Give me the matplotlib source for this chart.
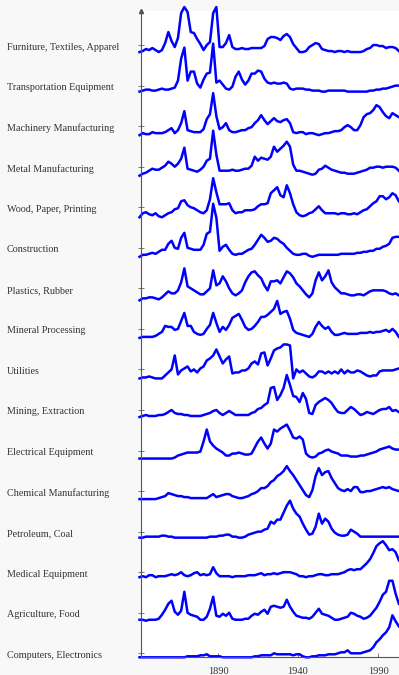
import numpy as np
import matplotlib.pyplot as plt
from matplotlib.transforms import blended_transform_factory

# yearly grid (every 2 years), values = height above each row's baseline
years = np.arange(1841, 2004, 2)

labels = ["Furniture, Textiles, Apparel", "Transportation Equipment",
          "Machinery Manufacturing", "Metal Manufacturing",
          "Wood, Paper, Printing", "Construction", "Plastics, Rubber",
          "Mineral Processing", "Utilities", "Mining, Extraction",
          "Electrical Equipment", "Chemical Manufacturing", "Petroleum, Coal",
          "Medical Equipment", "Agriculture, Food", "Computers, Electronics"]

furniture = [-7,-6,-4,-5,-3,-5,-7,-5,2,13, 4,-2,7,32,38,33,13,12,6,1,
             -5,0,3,32,38,-2,-2,2,10,-2, -4,-4,-3,-4,-4,-3,-3,-3,-3,-1,
             6,8,8,7,5,9,11,8,1,-3, -7,-7,-6,-2,0,2,1,-4,-5,-6,
             -6,-7,-6,-6,-7,-6,-7,-7,-7,-7, -6,-4,-3,0,0,-1,-1,-3,-2,-2, -3,-6]
transport = [-6,-5,-4,-4,-5,-5,-4,-3,-4,-4, -3,-2,5,27,38,5,14,14,2,-2,
             6,12,13,42,3,5,1,-3,-4,-1, 9,14,6,1,5,12,12,15,14,7,
             3,2,3,2,2,3,2,-3,-4,-3, -3,-3,-4,-4,-5,-5,-5,-6,-6,-5,
             -5,-5,-5,-5,-5,-6,-6,-6,-6,-6, -6,-6,-5,-5,-4,-4,-3,-3,-2,-1, 0,0]
machinery = [-9,-7,-8,-8,-6,-7,-7,-7,-6,-4, -2,-7,-4,3,15,-4,-5,-6,-6,-6,
             -3,7,12,33,10,-3,-1,3,-4,-6, -6,-5,-4,-4,-2,-1,3,6,11,6,
             2,5,8,5,4,6,7,3,-6,-7, -6,-6,-8,-7,-7,-8,-9,-8,-7,-7,
             -6,-5,-5,-4,-1,1,-1,-4,-4,1, 9,12,13,16,21,19,14,10,8,13, 11,9]
metal = [-9,-7,-6,-4,-2,-3,-3,-1,1,5, 3,0,3,8,19,-2,-3,-4,-5,-3,
         0,6,8,36,12,-4,-4,-4,-4,-3, -4,-4,-3,-2,-2,1,10,6,9,8,
         7,10,20,15,18,21,25,20,2,-4, -4,-5,-6,-7,-8,-7,-3,-2,1,-1,
         -3,-4,-5,-6,-6,-7,-7,-7,-6,-5, -4,-3,-1,-1,0,0,-1,0,0,0, -1,-4]
wood = [-10,-6,-5,-7,-8,-6,-9,-10,-8,-6, -5,-2,-1,6,7,2,0,-1,-3,-5,
        -6,-3,8,29,15,3,3,3,4,-3, -6,-5,-5,-3,-3,-3,-2,1,3,3,
        4,14,17,20,12,10,22,14,3,-5, -8,-9,-8,-6,-5,-2,1,-3,-6,-6,
        -6,-6,-7,-6,-6,-7,-7,-6,-7,-5, -3,-2,1,4,6,11,11,8,10,14, 12,6]
construction = [-9,-7,-7,-6,-5,-6,-4,-2,-2,4, 7,0,-1,10,15,0,-1,-2,-2,-2,
                3,14,16,44,30,-3,1,3,-2,-6, -7,-6,-6,-4,-2,-1,3,8,13,10,
                6,7,10,9,6,4,0,-3,-6,-7, -7,-6,-6,-8,-9,-8,-7,-7,-7,-7,
                -7,-7,-7,-6,-6,-6,-6,-6,-5,-5, -4,-4,-3,-3,-1,-1,1,2,4,10, 11,11]
plastics = [-12,-10,-10,-9,-9,-10,-11,-9,-6,-3, -5,-5,-2,6,20,2,0,-2,-4,-6,
            -6,-3,0,18,3,5,12,7,0,-5, -7,-5,-2,6,12,16,17,13,10,3,
            -2,7,7,8,5,11,17,15,11,5, 2,-2,-6,-9,-5,8,16,8,12,18,
            6,1,-2,-5,-5,-6,-7,-7,-6,-6, -7,-5,-3,-2,-2,-2,-2,-3,-5,-6, -5,-7]
mineral = [-9,-8,-8,-8,-8,-7,-5,-3,3,2, 2,-1,0,8,16,3,3,-3,-5,-6,
           -5,0,4,16,6,-3,2,-1,4,11, 13,15,9,2,-1,0,3,7,12,12,
           14,17,20,28,15,17,18,10,-1,-4, -5,-6,-7,-8,-5,2,7,3,0,2,
           -3,-6,-6,-5,-4,-5,-5,-5,-5,-4, -4,-4,-3,-4,-3,-3,-2,-1,-3,0, -3,-8]
utilities = [-9,-8,-8,-7,-8,-9,-9,-9,-6,-3, 0,14,-5,-1,1,3,-2,0,-3,1,
             3,9,11,14,20,13,6,10,13,-4, -3,-3,-1,-1,1,6,8,5,16,17,
             4,11,19,21,22,25,25,24,-9,0, -3,-1,-4,-7,-8,-6,-2,-2,-4,-2,
             -4,-2,-4,0,-4,-1,-3,-3,-1,-2, -4,-6,-7,-6,-6,-2,-1,-1,-1,-1, 0,1]
mining = [-7,-6,-5,-6,-6,-6,-5,-5,-4,-2, 0,-3,-4,-4,-5,-5,-6,-6,-6,-6,
          -5,-4,-3,-1,0,-3,-5,-3,-1,-3, -5,-5,-5,-5,-5,-3,-2,1,2,5,
          7,22,23,10,15,22,35,25,14,13, 8,17,11,-3,-4,5,8,10,12,10,
          7,2,-2,-3,-3,0,3,1,-2,-5, -4,-2,-3,-4,-2,0,1,1,3,-1, 0,-2]
electrical = [-8,-8,-8,-8,-8,-8,-8,-8,-8,-8, -8,-7,-5,-4,-3,-2,-2,-2,-2,-1,
              9,21,9,5,2,0,-2,-5,-5,-3, -3,-2,-3,-4,-4,-3,3,9,13,7,
              2,7,21,19,22,24,26,20,13,12, 14,11,-3,-6,-7,-6,-3,-2,0,1,
              -1,-2,-3,-5,-5,-5,-6,-6,-6,-5, -5,-4,-3,-2,-1,1,2,3,4,2, 1,1]
chemical = [-8,-8,-8,-8,-8,-8,-7,-6,-5,-2, -3,-4,-5,-5,-6,-6,-7,-7,-7,-7,
            -7,-7,-5,-3,-6,-5,-4,-3,-3,-5, -6,-7,-7,-6,-5,-3,-2,0,3,3,
            5,9,11,15,17,20,25,20,16,11, 6,1,-4,-6,1,15,23,16,19,20,
            13,8,3,1,0,2,0,4,4,-1, -1,0,0,1,2,3,4,3,4,2, 1,0]
petroleum = [-6,-6,-5,-5,-5,-5,-5,-4,-4,-5, -5,-6,-6,-6,-6,-6,-6,-6,-6,-6,
             -6,-6,-5,-5,-5,-4,-4,-3,-3,-5, -5,-6,-6,-5,-3,-2,-1,0,0,2,
             3,10,8,12,12,19,26,31,23,18, 15,8,2,-3,-2,5,18,8,13,10,
             3,-1,-3,-4,-4,-3,2,0,-2,-5, -5,-5,-5,-5,-5,-5,-5,-5,-5,-5, -5,-5]
medical = [-5,-4,-5,-3,-3,-5,-4,-4,-4,-3, -2,-3,-2,0,-3,-4,-3,-1,0,-3,
           -2,-3,-2,5,-1,-4,-4,-4,-4,-5, -4,-4,-4,-4,-3,-3,-3,-2,-1,-3,
           -2,-2,-1,-2,-1,0,0,0,-1,-2, -4,-4,-5,-4,-4,-3,-2,-2,-3,-3,
           -2,-2,-2,-1,0,2,3,2,3,3, 6,9,13,19,26,29,31,27,22,23, 20,12]
agriculture = [-7,-7,-8,-7,-7,-7,-6,-2,3,9, 12,1,-2,2,21,0,-2,-3,-4,-7,
               -7,-4,4,16,-3,-4,-1,-3,0,-6, -7,-7,-7,-6,-6,-3,-1,-2,1,3,
               -1,6,7,6,5,6,13,6,1,-3, -4,-5,-5,-6,-4,0,4,-1,-2,-3,
               -5,-7,-7,-6,-5,-4,0,-1,-3,-4, -6,-5,-3,1,5,11,18,21,32,32, 19,9]
computers = [-4,-4,-4,-4,-4,-4,-4,-4,-4,-4, -4,-4,-4,-4,-4,-3,-3,-3,-3,-2,
             -2,-1,-3,-3,-3,-3,-4,-4,-4,-4, -4,-4,-4,-4,-4,-4,-3,-3,-2,-2,
             -2,-2,0,-1,-1,-1,-1,-1,-2,-1, -1,-3,-4,-4,-3,-3,-2,-2,-2,-1,
             -1,-1,0,1,1,3,0,0,0,0, 1,2,3,6,11,14,18,21,26,38, 32,27]

series = [furniture, transport, machinery, metal, wood, construction, plastics,
          mineral, utilities, mining, electrical, chemical, petroleum, medical,
          agriculture, computers]

fig = plt.figure(figsize=(3.99, 6.75), dpi=100, facecolor='#f8f8f8')
ax = fig.add_axes([140.5/399, 18/675, (399-140.5)/399, 646/675])
ax.set_facecolor('white')

gap = 40.55
n = len(series)
bases = [(n - 1 - i) * gap for i in range(n)]
for base, vals in zip(bases, series):
    ax.plot(years, base + np.array(vals), color='#0000ff', lw=1.8,
            clip_on=False, solid_joinstyle='round')

ax.set_xlim(1841.6, 2003.1)
ax.set_ylim(-3.7, 642.3)

ax.set_yticks(bases)
ax.set_yticklabels([])
ax.tick_params(axis='y', direction='inout', length=4, color='#777', width=0.7)
ax.set_xticks([1890, 1940, 1990])
ax.tick_params(axis='x', direction='in', length=3, color='#777', width=0.7,
               labelsize=7.5, labelcolor='#333', pad=7)
for t in ax.get_xticklabels():
    t.set_family('Liberation Serif')

for s in ['top', 'right']:
    ax.spines[s].set_visible(False)
for s in ['left', 'bottom']:
    ax.spines[s].set_color('#555')
    ax.spines[s].set_linewidth(0.8)
ax.plot(0, 1, marker='^', ms=3, color='#555', transform=ax.transAxes, clip_on=False)

trans = blended_transform_factory(fig.transFigure, ax.transData)
for base, lab in zip(bases, labels):
    ax.text(7/399, base - 2, lab, transform=trans, ha='left', va='center',
            fontsize=7.3, family='Liberation Serif', color='#333')

fig.savefig('out.png', dpi=100, facecolor=fig.get_facecolor())
